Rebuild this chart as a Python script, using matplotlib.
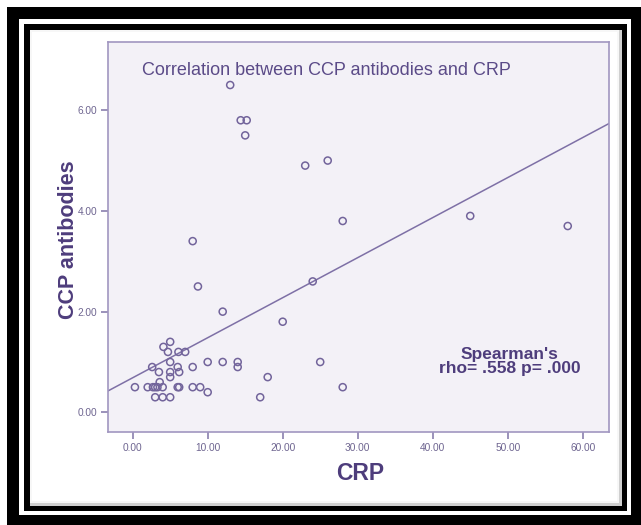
import matplotlib
matplotlib.use("Agg")
import matplotlib.pyplot as plt
from matplotlib.patches import Rectangle
import numpy as np

# ---- data ----
crp = [0.3, 2.0, 2.7, 3.0, 3.3, 4.0, 3.6, 3.0, 4.0, 5.0,
       2.6, 3.5, 4.1, 5.0, 4.7, 6.1, 7.0, 5.0, 6.0, 5.0,
       6.2, 5.0, 6.0, 6.2, 8.0, 8.0, 9.0, 10.0, 10.0, 12.0,
       14.0, 14.0, 17.0, 18.0, 20.0, 12.0, 8.7, 8.0, 13.0, 14.4,
       15.2, 15.0, 23.0, 26.0, 28.0, 24.0, 25.0, 28.0, 45.0, 58.0]
ccp = [0.5, 0.5, 0.5, 0.5, 0.5, 0.5, 0.6, 0.3, 0.3, 0.3,
       0.9, 0.8, 1.3, 1.4, 1.2, 1.2, 1.2, 1.0, 0.9, 0.8,
       0.8, 0.7, 0.5, 0.5, 0.9, 0.5, 0.5, 1.0, 0.4, 1.0,
       1.0, 0.9, 0.3, 0.7, 1.8, 2.0, 2.5, 3.4, 6.5, 5.8,
       5.8, 5.5, 4.9, 5.0, 3.8, 2.6, 1.0, 0.5, 3.9, 3.7]
fit_intercept = 0.687
fit_slope = 0.0795
x_ticks = [0, 10, 20, 30, 40, 50, 60]
y_ticks = [0, 2, 4, 6]
title = "Correlation between CCP antibodies and CRP"
x_label = "CRP"
y_label = "CCP antibodies"
stat_text = "Spearman's\nrho= .558 p= .000"

W, H = 641, 525
fig = plt.figure(figsize=(W / 100, H / 100), dpi=100)
fig.patch.set_facecolor("white")

def frect(x0, y0, x1, y1, color, z=0):
    # pixel coords (top-left origin) -> figure fraction
    fig.patches.append(Rectangle((x0 / W, 1 - y1 / H), (x1 - x0) / W, (y1 - y0) / H,
                                 transform=fig.transFigure, facecolor=color,
                                 edgecolor="none", zorder=z))

# decorative black double frame
frect(7, 7, 641, 525, "black", 0)
frect(19, 19, 631, 515, "white", 0.1)
frect(24, 24, 627, 511, "black", 0.2)
frect(30, 30, 622, 506, "#cfcfcf", 0.3)
frect(30, 30, 619, 503, "#f7f7f7", 0.4)
frect(32, 32, 617, 501, "white", 0.5)

purple_dark = "#4e3d7c"
ax = fig.add_axes([108.3 / W, 1 - 432 / H, (609 - 108.3) / W, (432 - 41.7) / H])
ax.set_facecolor("#f3f1f7")
ax.set_zorder(1)

ax.scatter(crp, ccp, s=26, facecolors="none", edgecolors="#72649b", linewidths=1.1, zorder=3)

xmin, xmax = -3.25, 63.5
ymin, ymax = -0.39, 7.36
xl = np.array([xmin, xmax])
ax.plot(xl, fit_intercept + fit_slope * xl, color="#7e70a6", lw=1.1, zorder=2)

ax.set_xlim(xmin, xmax)
ax.set_ylim(ymin, ymax)
ax.set_xticks(x_ticks)
ax.set_yticks(y_ticks)
ax.set_xticklabels([f"{v:.2f}" for v in x_ticks])
ax.set_yticklabels([f"{v:.2f}" for v in y_ticks])
for s in ax.spines.values():
    s.set_color("#a196c0")
    s.set_linewidth(1.2)
ax.tick_params(direction="out", length=5, width=1.2, color="#8a7fae",
               labelsize=7.3, labelcolor="#6e6590", pad=3)
for lab in ax.get_xticklabels() + ax.get_yticklabels():
    lab.set_family("Liberation Sans")

ax.text(0.068, 0.925, title, transform=ax.transAxes, ha="left", va="center",
        fontsize=13, color="#5b4b88", family="Liberation Sans")
ax.text(0.802, 0.18, stat_text, transform=ax.transAxes, ha="center", va="center",
        fontsize=12.5, fontweight="bold", color=purple_dark, family="Liberation Sans",
        linespacing=0.92)

fig.text(360 / W, 1 - 474 / H, x_label, ha="center", va="center", fontsize=16.5,
         fontweight="bold", color=purple_dark, family="Liberation Sans")
fig.text(68 / W, 1 - 240 / H, y_label, ha="center", va="center", rotation=90,
         fontsize=15.5, fontweight="bold", color=purple_dark, family="Liberation Sans")

fig.savefig("out.png", dpi=100)
